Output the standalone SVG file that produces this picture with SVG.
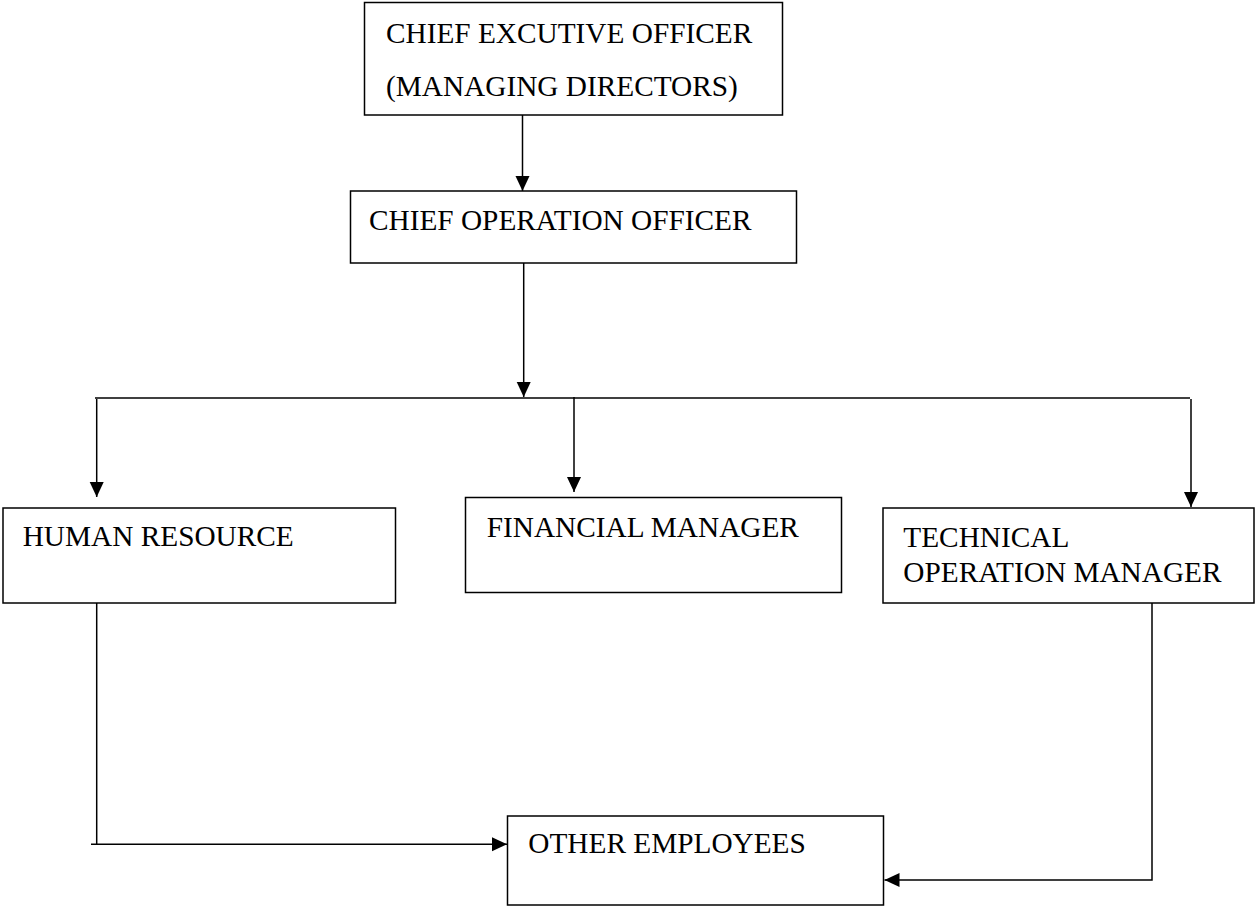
<svg xmlns="http://www.w3.org/2000/svg" width="1255" height="906" viewBox="0 0 1255 906">
<style>
.box{fill:#fff;stroke:#000;stroke-width:1.5}
.t{font-family:"Liberation Serif","Times New Roman",serif;font-size:29.3px;fill:#000}
.c{fill:none;stroke:#000;stroke-width:1.5}
</style>
<defs>
<marker id="ah" markerUnits="userSpaceOnUse" markerWidth="16" markerHeight="15" refX="15" refY="7" orient="auto">
<path d="M0,0 L15,7 L0,14 z" fill="#000"/>
</marker>
</defs>
<rect width="1255" height="906" fill="#fff"/>
<g id="ceo">
<rect class="box" x="364.5" y="2.5" width="418" height="112.5"/>
<text class="t" x="386" y="42.7">CHIEF EXCUTIVE OFFICER</text>
<text class="t" x="386" y="96">(MANAGING DIRECTORS)</text>
</g>
<g id="coo">
<rect class="box" x="350.5" y="191" width="446" height="72"/>
<text class="t" x="369" y="230">CHIEF OPERATION OFFICER</text>
</g>
<g id="hr">
<rect class="box" x="3" y="508" width="392.5" height="95"/>
<text class="t" x="22.7" y="545.7">HUMAN RESOURCE</text>
</g>
<g id="fm">
<rect class="box" x="465.5" y="497.5" width="376" height="95"/>
<text class="t" x="486.7" y="536.5">FINANCIAL MANAGER</text>
</g>
<g id="tom">
<rect class="box" x="883" y="508" width="371" height="95"/>
<text class="t" x="903.3" y="546.7">TECHNICAL</text>
<text class="t" x="903.3" y="582">OPERATION MANAGER</text>
</g>
<g id="oe">
<rect class="box" x="507.5" y="816" width="376" height="89"/>
<text class="t" x="528.3" y="853.3">OTHER EMPLOYEES</text>
</g>
<g id="connectors">
<line class="c" x1="522.5" y1="115" x2="522.5" y2="191" marker-end="url(#ah)"/>
<line class="c" x1="523.7" y1="263" x2="523.7" y2="397" marker-end="url(#ah)"/>
<line class="c" x1="95" y1="398" x2="1190" y2="398"/>
<line class="c" x1="96.7" y1="399" x2="96.7" y2="497" marker-end="url(#ah)"/>
<line class="c" x1="574" y1="397" x2="574" y2="492" marker-end="url(#ah)"/>
<line class="c" x1="1191" y1="399" x2="1191" y2="507" marker-end="url(#ah)"/>
<line class="c" x1="96.7" y1="603" x2="96.7" y2="844"/>
<line class="c" x1="91" y1="844.3" x2="507" y2="844.3" marker-end="url(#ah)"/>
<path class="c" d="M1152,603 V880 H884.5" marker-end="url(#ah)"/>
</g>
</svg>
